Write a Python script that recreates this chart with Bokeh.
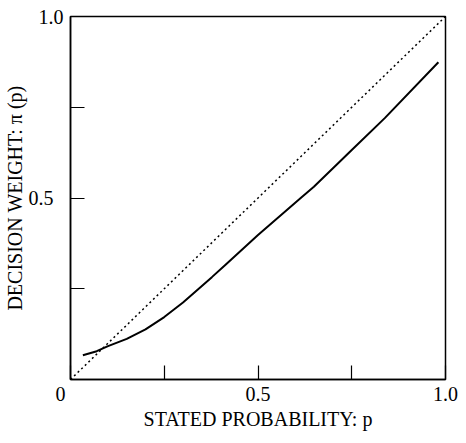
from bokeh.plotting import figure
from bokeh.models import Range1d, FixedTicker
from bokeh.embed import file_html
from bokeh.resources import INLINE

# stated probability p and decision weight pi(p)
p_vals = [0.033, 0.07, 0.10, 0.15, 0.20, 0.25, 0.30, 0.377, 0.412, 0.5, 0.617, 0.649, 0.75, 0.838, 0.981]
w_vals = [0.067, 0.078, 0.092, 0.112, 0.138, 0.172, 0.212, 0.282, 0.315, 0.398, 0.503, 0.531, 0.632, 0.72, 0.874]
diag_p = [0.0, 1.0]
diag_w = [0.0, 1.0]
x_ticks = [0.0, 0.25, 0.5, 0.75, 1.0]
y_ticks = [0.25, 0.5, 0.75, 1.0]
x_tick_text = {0.0: "0\u2007\u2007", 0.25: "", 0.5: "0.5", 0.75: "", 1.0: "1.0"}
y_tick_text = {0.25: "", 0.5: "0.5\u2007", 0.75: "", 1.0: "1.0"}
x_title = "STATED PROBABILITY: p"
y_title = "DECISION WEIGHT: \u03c0 (p)"

FONT = "Liberation Serif"

p = figure(width=458, height=435, output_backend="svg", toolbar_location=None,
           x_range=Range1d(0, 1), y_range=Range1d(0, 1),
           min_border_left=66, min_border_right=13, min_border_top=16, min_border_bottom=56)
p.grid.visible = False
p.background_fill_color = "white"
p.border_fill_color = "white"
p.outline_line_color = "black"
p.outline_line_width = 1.5
p.outline_line_alpha = 1.0

p.line(diag_p, diag_w, line_color="black", line_width=1.5, line_dash="2 3")
p.line(p_vals, w_vals, line_color="black", line_width=2)

for ax, ticks, labels in ((p.xaxis[0], x_ticks, x_tick_text), (p.yaxis[0], y_ticks, y_tick_text)):
    ax.ticker = FixedTicker(ticks=ticks)
    ax.major_label_overrides = labels
    ax.major_tick_in = 14
    ax.major_tick_out = 0
    ax.minor_tick_in = 0
    ax.minor_tick_out = 0
    ax.major_tick_line_color = "black"
    ax.major_tick_line_width = 1.2
    ax.axis_line_color = "black"
    ax.axis_line_width = 1.5
    ax.major_label_text_font = FONT
    ax.major_label_text_font_size = "20px"
    ax.major_label_text_color = "black"
    ax.axis_label_text_font = FONT
    ax.axis_label_text_font_size = "20px"
    ax.axis_label_text_font_style = "normal"
    ax.axis_label_text_color = "black"

p.xaxis.axis_label = x_title
p.yaxis.axis_label = y_title
p.xaxis.major_label_standoff = 3
p.xaxis.axis_label_standoff = 0
p.yaxis.major_label_standoff = 7
p.yaxis.axis_label_standoff = 0

open("out.html", "w").write(file_html(p, INLINE))
